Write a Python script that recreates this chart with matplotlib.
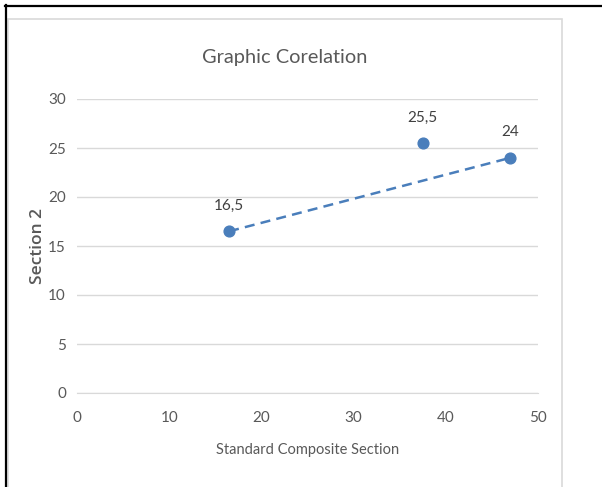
import matplotlib
matplotlib.use("Agg")
import matplotlib.pyplot as plt
from matplotlib.lines import Line2D
from matplotlib.patches import Rectangle

x_vals = [16.5, 37.5, 47]
y_vals = [16.5, 25.5, 24]
point_labels = ["16,5", "25,5", "24"]
line_idx = [0, 2]
x_ticks = [0, 10, 20, 30, 40, 50]
y_ticks = [0, 5, 10, 15, 20, 25, 30]

W, H = 602, 487
fig = plt.figure(figsize=(W / 100, H / 100), dpi=100)
fig.patch.set_facecolor("white")

def fx(px):
    return px / W

def fy(py):
    return 1 - py / H

# outer black frame (top and left)
fig.add_artist(Line2D([fx(5), fx(602)], [fy(6), fy(6)], color="black", lw=1.6, transform=fig.transFigure))
fig.add_artist(Line2D([fx(6), fx(6)], [fy(5), fy(487)], color="black", lw=1.6, transform=fig.transFigure))
# chart area light gray box
fig.add_artist(Rectangle((fx(8), fy(490)), fx(562) - fx(8), fy(19) - fy(490), fill=False,
                         edgecolor="#d9d9d9", lw=1.2, transform=fig.transFigure))

fnt = ["Lato", "Open Sans", "DejaVu Sans"]
gray = "#595959"

x0, x1, y0, y1 = 77, 538, 393, 99
ax = fig.add_axes([fx(x0), fy(y0), fx(x1) - fx(x0), fy(y1) - fy(y0)])
ax.set_xlim(0, 50)
ax.set_ylim(0, 30)
ax.set_xticks(x_ticks)
ax.set_yticks(y_ticks)
ax.grid(axis="y", color="#d9d9d9", lw=1)
ax.set_axisbelow(True)
for s in ["top", "right", "left"]:
    ax.spines[s].set_visible(False)
ax.spines["bottom"].set_color("#d9d9d9")
ax.tick_params(length=0, labelcolor=gray, labelsize=11)
ax.tick_params(axis="y", pad=8)
ax.tick_params(axis="x", pad=13)
for lab in ax.get_xticklabels() + ax.get_yticklabels():
    lab.set_family(fnt)

color = "#4a7ebb"
ax.plot([x_vals[i] for i in line_idx], [y_vals[i] for i in line_idx], ls=(0, (4, 2.5)),
        color=color, lw=1.8, zorder=2)
ax.scatter(x_vals, y_vals, s=60, color=color, zorder=3)
for xv, yv, lab in zip(x_vals, y_vals, point_labels):
    ax.annotate(lab, (xv, yv), xytext=(0, 18.5), textcoords="offset points", ha="center",
                va="center", fontsize=11, color="#404040", family=fnt)

ax.set_xlabel("Standard Composite Section", fontsize=10.5, color=gray, family=fnt)
ax.xaxis.label.set_va("center")
ax.xaxis.set_label_coords(0.5, (y0 - 450) / (y0 - y1))
ax.set_ylabel("Section 2", fontsize=12.5, color=gray, family=["Open Sans", "DejaVu Sans"],
              fontweight="semibold")
ax.yaxis.label.set_va("center")
ax.yaxis.set_label_coords((38 - x0) / (x1 - x0), 0.5)

fig.text(fx(285), fy(57), "Graphic Corelation", ha="center", va="center", fontsize=14.4,
         color=gray, family=fnt)

fig.savefig("out.png", dpi=100)
